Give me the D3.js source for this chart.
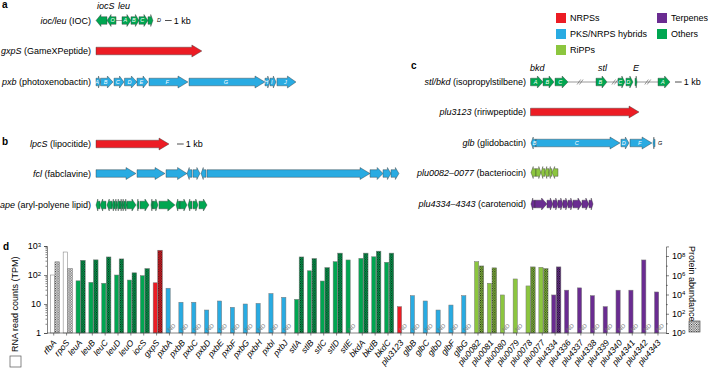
<!DOCTYPE html>
<html>
<head>
<meta charset="utf-8">
<script src="https://cdn.jsdelivr.net/npm/d3@7"></script>
<style>
body { margin: 0; background: #fff; }
text { font-family: "Liberation Sans", Arial, Helvetica, sans-serif; }
</style>
</head>
<body>
<div id="fig"></div>
<script>
let w = 708
let h = 370

let colors = {
	ctrl: "#ffffff",
	nrps: "#ec1c24",
	pks: "#29abe2",
	ripp: "#8cc63f",
	terp: "#6a2c91",
	oth: "#00a651"
}

// ---- gene clusters: [start kb, end kb, direction, label]
let iocGenes = [[0, 1.64, -1, ""], [1.64, 2.99, -1, "O"], [3.88, 5.22, 1, "A"], [5.22, 6.42, 1, "B"], [6.42, 7.76, 1, "C"], [7.76, 8.5, 1, ""]]
let gxpGenes = [[0, 15.8, 1, ""]]
let pxbGenes = [[0, 0.67, 1, "A"], [0.67, 2.54, 1, "B"], [2.69, 4.18, 1, "C"], [4.25, 6.12, 1, "D"], [6.12, 7.76, 1, "E"], [7.91, 13.73, 1, "F"], [13.88, 25.22, 1, "G"], [25.22, 25.97, 1, "H"], [25.97, 26.87, 1, "I"], [27.01, 29.85, 1, "J"]]
let lpcGenes = [[0, 10.9, 1, ""]]
let fclGenes = [[0, 5.97, 1, ""], [6.12, 10.3, 1, ""], [10.45, 13.58, 1, ""], [13.58, 14.33, -1, ""], [14.48, 15.52, 1, ""], [15.67, 16.42, -1, ""], [16.57, 40.9, 1, ""], [40.9, 42.84, 1, ""], [42.84, 44.03, 1, ""], [44.03, 45.22, 1, ""]]
let apeGenes = [[0, 0.6, -1, ""], [0.6, 1.49, -1, ""], [1.64, 2.39, -1, ""], [2.39, 2.84, -1, ""], [2.84, 3.13, -1, ""], [3.13, 3.58, -1, ""], [3.58, 3.88, 1, ""], [3.88, 4.18, 1, ""], [4.18, 4.63, 1, ""], [4.63, 5.97, 1, ""], [6.12, 6.42, -1, ""], [6.57, 7.91, 1, ""], [8.21, 8.51, -1, ""], [8.51, 9.25, 1, ""], [9.4, 11.79, 1, ""], [11.94, 12.54, -1, ""], [12.54, 13.58, 1, ""], [13.73, 14.33, -1, ""], [14.48, 15.22, 1, ""], [15.37, 16.57, 1, ""]]
let stlGenes = [[0, 1.87, 1, "A"], [1.87, 3.51, 1, "B"], [3.66, 5.6, 1, "C"], [9.78, 11.42, 1, "B"], [13.06, 14.1, 1, "C"], [14.25, 15.3, 1, "D"], [15.6, 15.9, 1, ""], [19.03, 20.82, 1, "A"]]
let stlLinks = [[5.6, 9.78], [11.42, 13.06], [15.9, 19.03]]
let stlBreaks = [7.4, 12.6, 17.5]
let pluRiriGenes = [[0, 16.2, 1, ""]]
let glbGenes = [[0.07, 0.82, -1, "B"], [0.82, 13.36, 1, "C"], [13.5, 14.7, 1, "D"], [14.85, 18.13, 1, "F"], [18.28, 18.58, -1, ""]]
let bactGenes = [[0.07, 0.82, -1, ""], [0.82, 1.57, 1, ""], [1.57, 2.16, -1, ""], [2.16, 2.76, -1, ""], [2.76, 3.2, -1, ""], [3.2, 4.1, -1, ""]]
let carGenes = [[0.07, 0.67, -1, ""], [0.67, 2.46, 1, ""], [2.46, 3.36, 1, ""], [3.36, 4.1, 1, ""], [4.1, 4.85, 1, ""], [4.85, 5.6, 1, ""], [5.6, 6.34, 1, ""], [6.34, 7.69, 1, ""], [7.69, 8.73, 1, ""], [8.73, 9.33, 1, ""]]

// ---- expression data (panel d)
let categories = ["rfbA", "rpoS", "leuA", "leuB", "leuC", "leuD", "leuO", "iocS", "gxpS",
	"pxbA", "pxbB", "pxbC", "pxbD", "pxbE", "pxbF", "pxbG", "pxbH", "pxbI", "pxbJ",
	"stlA", "stlB", "stlC", "stlD", "stlE", "bkdA", "bkdB", "bkdC", "plu3123",
	"glbB", "glbC", "glbD", "glbF", "glbG",
	"plu0082", "plu0081", "plu0080", "plu0079", "plu0078", "plu0077",
	"plu4334", "plu4336", "plu4337", "plu4338", "plu4339", "plu4340", "plu4341", "plu4342", "plu4343"]
let groups = ["ctrl", "ctrl", "oth", "oth", "oth", "oth", "oth", "oth", "nrps",
	"pks", "pks", "pks", "pks", "pks", "pks", "pks", "pks", "pks", "pks",
	"oth", "oth", "oth", "oth", "oth", "oth", "oth", "oth", "nrps",
	"pks", "pks", "pks", "pks", "pks",
	"ripp", "ripp", "ripp", "ripp", "ripp", "ripp",
	"terp", "terp", "terp", "terp", "terp", "terp", "terp", "terp", "terp"]
let rnaTPM = [100, 620, 63, 56, 52, 100, 67, 95, 54,
	35, 11.5, 11.5, 6.2, 12.7, 7.7, 10, 10.5, 23, 17,
	14.5, 140, 62, 288, 330, 375, 425, 275, 8.1,
	19.4, 12.7, 6.2, 9.2, 19.4,
	288, 52, 20.5, 73, 42, 185,
	20.5, 30, 36, 19.4, 8.1, 30, 30, 330, 26]
let protein = [2.5e7, 5e6, 3.6e7, 4e7, 8e7, 5e7, 1.8e6, 5e6, 4e8,
	null, null, null, null, null, null, null, null, null, null,
	8e7, 5.5e7, 6.3e6, 2e8, null, 2e8, 3.2e8, 2e8, null,
	null, null, null, null, null,
	9.3e6, 5.9e6, null, null, 7.4e6, 5e6,
	7.4e6, null, null, null, null, null, null, null, null]
let rnaTicks = [1, 10, 100, 1000]
let proteinTicks = [1, 1e1, 1e2, 1e3, 1e4, 1e5, 1e6, 1e7, 1e8]

let legendA = [["nrps", "NRPSs"], ["pks", "PKS/NRPS hybrids"], ["ripp", "RiPPs"]]
let legendB = [["terp", "Terpenes"], ["oth", "Others"]]

let svg = d3.select("#fig").append("svg")
	.attr("width", w)
	.attr("height", h)

// checkered fill for protein bars
let defs = svg.append("defs")
Object.keys(colors).forEach(k => {
	let p = defs.append("pattern")
		.attr("id", "chk-" + k)
		.attr("width", 2.4)
		.attr("height", 2.4)
		.attr("patternUnits", "userSpaceOnUse")
	p.append("rect").attr("width", 2.4).attr("height", 2.4).attr("fill", colors[k])
	p.append("rect").attr("width", 1).attr("height", 1).attr("fill", "#111")
	p.append("rect").attr("x", 1.2).attr("y", 1.2).attr("width", 1).attr("height", 1).attr("fill", "#111")
})

let panelLetter = (x, y, t) => svg.append("text")
	.attr("x", x).attr("y", y)
	.attr("font-size", 10).attr("font-weight", "bold")
	.text(t)

let rowLabel = function(x, y, it, rest) {
	let t = svg.append("text")
		.attr("x", x).attr("y", y).attr("dy", "0.35em")
		.attr("text-anchor", "end").attr("font-size", 9)
	t.append("tspan").attr("font-style", "italic").text(it)
	t.append("tspan").text(rest)
}

let kb = d3.scaleLinear().domain([0, 1]).range([0, 6.7])

let arrowPath = function(x0, x1, dir, y) {
	let hd = Math.min(10, (x1 - x0) * 0.45)
	let b = 3.8, hh = 6
	if (dir > 0) return "M" + x0 + "," + (y - b) + "L" + (x1 - hd) + "," + (y - b) + "L" + (x1 - hd) + "," + (y - hh) +
		"L" + x1 + "," + y + "L" + (x1 - hd) + "," + (y + hh) + "L" + (x1 - hd) + "," + (y + b) + "L" + x0 + "," + (y + b) + "Z"
	return "M" + x1 + "," + (y - b) + "L" + (x0 + hd) + "," + (y - b) + "L" + (x0 + hd) + "," + (y - hh) +
		"L" + x0 + "," + y + "L" + (x0 + hd) + "," + (y + hh) + "L" + (x0 + hd) + "," + (y + b) + "L" + x1 + "," + (y + b) + "Z"
}

let drawCluster = function(x0, y, genes, color) {
	let g = svg.append("g")
	g.selectAll("path")
		.data(genes)
		.enter()
		.append("path")
		.attr("d", d => arrowPath(x0 + kb(d[0]), x0 + kb(d[1]), d[2], y))
		.attr("fill", color)
		.attr("stroke", "#333")
		.attr("stroke-width", 0.4)
	g.selectAll("text")
		.data(genes.filter(d => d[3]))
		.enter()
		.append("text")
		.attr("x", d => x0 + kb((d[0] + d[1]) / 2) - d[2] * 1.2)
		.attr("y", y).attr("dy", "0.35em")
		.attr("text-anchor", "middle")
		.attr("font-size", 5.5).attr("font-style", "italic")
		.attr("fill", "#fff")
		.text(d => d[3])
}

let scaleBar = function(x, y) {
	svg.append("line").attr("x1", x).attr("x2", x + kb(1)).attr("y1", y).attr("y2", y)
		.attr("stroke", "#222").attr("stroke-width", 0.8)
	svg.append("text").attr("x", x + kb(1) + 2).attr("y", y).attr("dy", "0.35em")
		.attr("font-size", 9).text("1 kb")
}

// ---- panel a
panelLetter(2, 8, "a")
svg.append("text").attr("x", 97).attr("y", 9).attr("font-size", 9).attr("font-style", "italic").text("iocS")
svg.append("text").attr("x", 118).attr("y", 9).attr("font-size", 9).attr("font-style", "italic").text("leu")
rowLabel(91, 20.5, "ioc/leu", " (IOC)")
svg.append("line").attr("x1", 96 + kb(2.99)).attr("x2", 96 + kb(3.88)).attr("y1", 20.5).attr("y2", 20.5)
	.attr("stroke", "#555").attr("stroke-width", 0.6)
drawCluster(96, 20.5, iocGenes, colors.oth)
svg.append("text").attr("x", 157).attr("y", 20.5).attr("dy", "0.35em").attr("font-size", 5.5)
	.attr("font-style", "italic").text("D")
scaleBar(165, 20.5)
rowLabel(91, 51, "gxpS", " (GameXPeptide)")
drawCluster(96, 51, gxpGenes, colors.nrps)
rowLabel(91, 82, "pxb", " (photoxenobactin)")
drawCluster(96, 82, pxbGenes, colors.pks)

// ---- panel b
panelLetter(2, 145, "b")
rowLabel(91, 144, "lpcS", " (lipocitide)")
drawCluster(96, 144, lpcGenes, colors.nrps)
scaleBar(177, 144)
rowLabel(91, 173.5, "fcl", " (fabclavine)")
drawCluster(96, 173.5, fclGenes, colors.pks)
rowLabel(91, 205, "ape", " (aryl-polyene lipid)")
drawCluster(96, 205, apeGenes, colors.oth)

// ---- legend
let leg = svg.append("g")
leg.selectAll("rect.a").data(legendA).enter().append("rect")
	.attr("x", 556).attr("y", (d, i) => 13 + i * 16).attr("width", 10).attr("height", 10)
	.attr("fill", d => colors[d[0]])
leg.selectAll("text.a").data(legendA).enter().append("text")
	.attr("x", 570).attr("y", (d, i) => 18 + i * 16).attr("dy", "0.35em").attr("font-size", 9)
	.text(d => d[1])
leg.selectAll("rect.b").data(legendB).enter().append("rect")
	.attr("x", 657).attr("y", (d, i) => 13 + i * 16).attr("width", 10).attr("height", 10)
	.attr("fill", d => colors[d[0]])
leg.selectAll("text.b").data(legendB).enter().append("text")
	.attr("x", 671).attr("y", (d, i) => 18 + i * 16).attr("dy", "0.35em").attr("font-size", 9)
	.text(d => d[1])

// ---- panel c
let cx = 530.5
panelLetter(411, 69, "c")
svg.append("text").attr("x", 530).attr("y", 71).attr("font-size", 9).attr("font-style", "italic").text("bkd")
svg.append("text").attr("x", 598).attr("y", 71).attr("font-size", 9).attr("font-style", "italic").text("stl")
svg.append("text").attr("x", 633).attr("y", 71).attr("font-size", 9).attr("font-style", "italic").text("E")
rowLabel(526, 82, "stl/bkd", " (isopropylstilbene)")
stlLinks.forEach(l => {
	svg.append("line").attr("x1", cx + kb(l[0])).attr("x2", cx + kb(l[1])).attr("y1", 82).attr("y2", 82)
		.attr("stroke", "#555").attr("stroke-width", 0.6)
})
stlBreaks.forEach(b => {
	[-1.2, 1.2].forEach(o => {
		svg.append("line").attr("x1", cx + kb(b) + o - 1.8).attr("x2", cx + kb(b) + o + 1.8)
			.attr("y1", 84.5).attr("y2", 79.5).attr("stroke", "#555").attr("stroke-width", 0.6)
	})
})
drawCluster(cx, 82, stlGenes, colors.oth)
scaleBar(675, 82)
rowLabel(526, 112, "plu3123", " (ririwpeptide)")
drawCluster(cx, 112, pluRiriGenes, colors.nrps)
rowLabel(526, 143, "glb", " (glidobactin)")
drawCluster(cx, 143, glbGenes, colors.pks)
svg.append("text").attr("x", 658).attr("y", 143).attr("dy", "0.35em").attr("font-size", 5.5)
	.attr("font-style", "italic").text("G")
rowLabel(526, 172.5, "plu0082–0077", " (bacteriocin)")
drawCluster(cx, 172.5, bactGenes, colors.ripp)
rowLabel(526, 204, "plu4334–4343", " (carotenoid)")
drawCluster(cx, 204, carGenes, colors.terp)

// ---- panel d
panelLetter(3, 250, "d")
let y0 = 333
let xScale = d3.scaleBand().domain(categories).range([47.3, 664.4])
let yRna = d3.scaleLog().domain([1, 1000]).range([y0, 246])
let yProt = d3.scaleLog().domain([1, 1e9]).range([y0, 246.4])

let rows = categories.map((c, i) => ({ c: c, g: groups[i], r: rnaTPM[i], p: protein[i] }))

let bars = svg.append("g")
bars.selectAll("rect.rna")
	.data(rows)
	.enter()
	.append("rect")
	.attr("x", d => xScale(d.c) + 3)
	.attr("y", d => yRna(d.r))
	.attr("width", 4.2)
	.attr("height", d => y0 - yRna(d.r))
	.attr("fill", d => colors[d.g])
	.attr("stroke", "#777")
	.attr("stroke-width", 0.5)
bars.selectAll("rect.prot")
	.data(rows.filter(d => d.p))
	.enter()
	.append("rect")
	.attr("x", d => xScale(d.c) + 7.6)
	.attr("y", d => yProt(d.p))
	.attr("width", 4.6)
	.attr("height", d => y0 - yProt(d.p))
	.attr("fill", d => "url(#chk-" + d.g + ")")
	.attr("stroke", "#777")
	.attr("stroke-width", 0.5)
bars.selectAll("text.nd")
	.data(rows.filter(d => !d.p))
	.enter()
	.append("text")
	.attr("transform", d => "translate(" + (xScale(d.c) + 10) + "," + (y0 - 4) + ") rotate(-45)")
	.attr("text-anchor", "middle")
	.attr("font-size", 5.8)
	.attr("fill", "#777")
	.text("ND")

let supLabel = function(sel, fmt) {
	sel.selectAll(".tick text").each(function(d) {
		let t = d3.select(this)
		let e = Math.round(Math.log10(d))
		t.text("")
		let s = fmt(e)
		if (s === null) return
		t.append("tspan").text(s[0])
		if (s[1] !== "") t.append("tspan").attr("dy", "-0.45em").attr("font-size", 6).text(s[1])
	})
}

let yAxisL = svg.append("g")
	.attr("transform", "translate(47,0)")
	.call(d3.axisLeft(yRna).tickValues(rnaTicks).tickSize(3).tickFormat(d => d))
yAxisL.selectAll("text").attr("font-size", 9).attr("font-family", null)
supLabel(yAxisL, e => e === 0 ? ["1", ""] : e === 1 ? ["10", ""] : ["10", "" + e])
let minorL = []
for (let dec = 1; dec < 1000; dec *= 10) for (let m = 2; m < 10; m++) minorL.push(dec * m)
yAxisL.selectAll("line.minor").data(minorL).enter().append("line")
	.attr("x1", -1.5).attr("x2", 0).attr("y1", d => yRna(d)).attr("y2", d => yRna(d))
	.attr("stroke", "#333").attr("stroke-width", 0.5)

let yAxisR = svg.append("g")
	.attr("transform", "translate(666,0)")
	.call(d3.axisRight(yProt).tickValues(proteinTicks).tickSize(3).tickFormat(d => d))
yAxisR.selectAll("text").attr("font-size", 9).attr("font-family", null)
supLabel(yAxisR, e => e % 2 === 0 ? ["10", "" + e] : null)
yAxisR.selectAll(".tick line").attr("x2", d => Math.round(Math.log10(d)) % 2 === 0 ? 3 : 1.8)

let xAxis = svg.append("g")
	.attr("transform", "translate(0," + y0 + ")")
	.call(d3.axisBottom(xScale).tickSize(2.5))
xAxis.selectAll("text")
	.attr("font-size", 8.5)
	.attr("font-family", null)
	.attr("font-style", "italic")
	.attr("text-anchor", "end")
	.attr("x", 0).attr("y", 0).attr("dy", "0.35em")
	.attr("transform", "translate(1,8) rotate(-50)")
;[yAxisL, yAxisR, xAxis].forEach(a => {
	a.selectAll("path, line").attr("stroke", "#333").attr("stroke-width", 0.6)
})
xAxis.select("path").attr("d", "M47,0H666")

// axis titles + legend boxes
svg.append("text")
	.attr("transform", "translate(18,352) rotate(-90)")
	.attr("font-size", 9)
	.text("RNA read counts (TPM)")
svg.append("rect").attr("x", 10).attr("y", 356).attr("width", 11).attr("height", 11)
	.attr("fill", "#fff").attr("stroke", "#555").attr("stroke-width", 0.7)
svg.append("text")
	.attr("transform", "translate(689,246) rotate(90)")
	.attr("font-size", 9)
	.text("Protein abundance")
svg.append("rect").attr("x", 689).attr("y", 321).attr("width", 11).attr("height", 11)
	.attr("fill", "url(#chk-ctrl)").attr("stroke", "#555").attr("stroke-width", 0.7)
</script>
</body>
</html>
